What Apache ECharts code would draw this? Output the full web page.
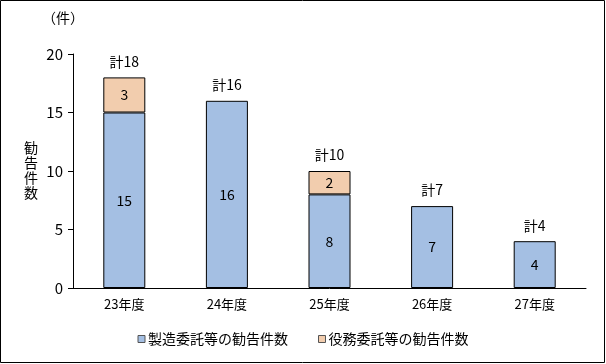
<!DOCTYPE html>
<html><head><meta charset="utf-8">
<script src="https://cdn.jsdelivr.net/npm/echarts@6/dist/echarts.min.js"></script>
<style>html,body{margin:0;padding:0;background:#fff}#c{width:606px;height:364px}</style>
</head><body><div id="c"></div>
<script>
var categories = ['23年度','24年度','25年度','26年度','27年度'];
var manufacturing = [15, 16, 8, 7, 4];
var services = [3, null, 2, null, null];
var seriesNames = ['製造委託等の勧告件数','役務委託等の勧告件数'];
var yTicks = [0, 5, 10, 15, 20];
var totals = categories.map(function(c, i){ return (manufacturing[i]||0) + (services[i]||0); });

var font = '"Noto Sans CJK JP", "Noto Sans", sans-serif';
var chart = echarts.init(document.getElementById('c'));
chart.setOption({
  animation: false,
  textStyle: {fontFamily: font, color: '#000'},
  grid: {left: 73, right: 20, top: 54, bottom: 76},
  legend: {
    data: seriesNames, bottom: 13, left: 'center', itemWidth: 7, itemHeight: 7, itemGap: 30,
    icon: 'rect',
    itemStyle: {borderColor: '#555', borderWidth: 1},
    textStyle: {fontFamily: font, fontSize: 14, color: '#000', padding: [0,0,0,-2]}
  },
  xAxis: {
    type: 'category', data: categories,
    axisLine: {lineStyle: {color: '#000', width: 1}},
    axisTick: {show: false},
    axisLabel: {color: '#000', fontSize: 13, margin: 10, fontFamily: font}
  },
  yAxis: {
    type: 'value', min: yTicks[0], max: yTicks[yTicks.length-1], interval: 5,
    axisLine: {show: true, lineStyle: {color: '#000'}},
    axisTick: {show: true, length: 5, lineStyle: {color: '#000'}},
    splitLine: {show: false},
    axisLabel: {color: '#000', fontSize: 15, margin: 10, fontFamily: font}
  },
  graphic: [
    {type: 'rect', shape: {x: 0.5, y: 0.5, width: 604, height: 362}, style: {fill: 'none', stroke: '#000', lineWidth: 1}, silent: true},
    {type: 'text', left: 42, top: 11, style: {text: '（件）', fontSize: 14, fontFamily: font, fill: '#000'}},
    {type: 'text', left: 24, top: 140, style: {text: '勧\n告\n件\n数', fontSize: 14, lineHeight: 15, fontFamily: font, fill: '#000'}}
  ],
  series: [
    {
      name: seriesNames[0], type: 'bar', stack: 'a', data: manufacturing, barWidth: 42,
      itemStyle: {color: '#a4bfe3', borderColor: '#000', borderWidth: 1},
      label: {show: true, position: 'inside', fontSize: 14, color: '#000', fontFamily: font}
    },
    {
      name: seriesNames[1], type: 'bar', stack: 'a', data: services, barWidth: 42,
      itemStyle: {color: '#f2cdae', borderColor: '#000', borderWidth: 1},
      label: {show: true, position: 'inside', fontSize: 14, color: '#000', fontFamily: font}
    },
    {
      name: 'total', type: 'bar', stack: 'a', data: totals.map(function(){return 0;}), barWidth: 42,
      itemStyle: {color: 'transparent', borderWidth: 0},
      label: {show: true, position: 'top', distance: 9, fontSize: 14, color: '#000', fontFamily: font,
        formatter: function(p){ return '計' + totals[p.dataIndex]; }}
    }
  ]
});
</script></body></html>
